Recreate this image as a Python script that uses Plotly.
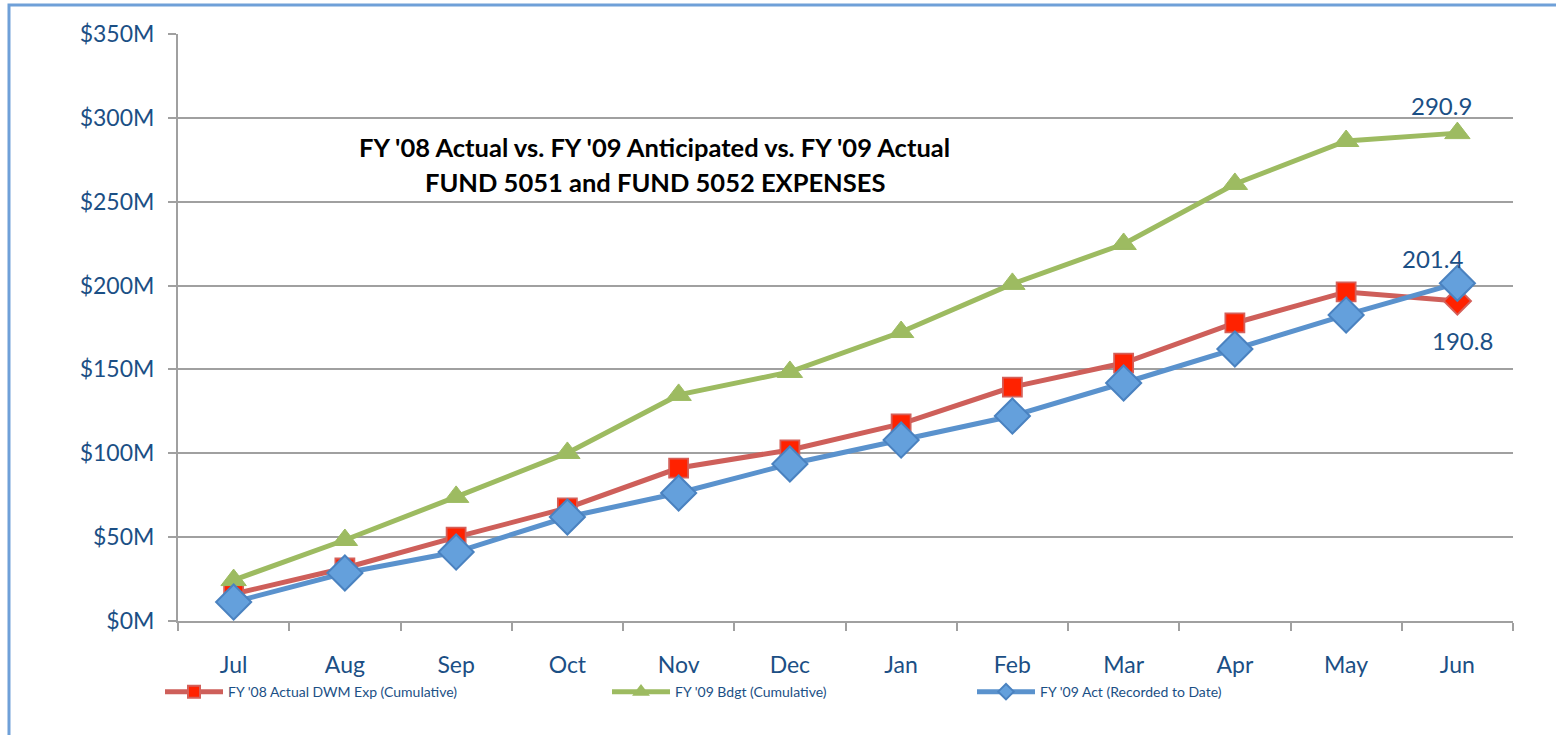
import plotly.graph_objects as go

months = ["Jul", "Aug", "Sep", "Oct", "Nov", "Dec", "Jan", "Feb", "Mar", "Apr", "May", "Jun"]
fy08_actual = [16.1, 31.6, 50.0, 67.4, 91.2, 102.0, 117.5, 139.5, 153.8, 177.7, 196.2, 190.8]
fy09_budget = [24.4, 48.3, 74.0, 100.2, 134.8, 148.5, 172.3, 201.0, 224.8, 260.6, 286.2, 290.9]
fy09_actual = [11.3, 28.6, 41.1, 62.0, 76.3, 93.6, 107.9, 122.2, 141.9, 162.2, 182.5, 201.4]
y_ticks = [0, 50, 100, 150, 200, 250, 300, 350]
y_labels = ["$0M", "$50M", "$100M", "$150M", "$200M", "$250M", "$300M", "$350M"]
series_names = ["FY '08 Actual DWM Exp (Cumulative)", "FY '09 Bdgt (Cumulative)", "FY '09 Act (Recorded to Date)"]
title_lines = ["FY '08 Actual vs. FY '09 Anticipated vs. FY '09 Actual", "FUND 5051 and FUND 5052 EXPENSES"]

FONT = "Lato, 'Open Sans', sans-serif"
LABEL_COLOR = "#1B4F85"

fig = go.Figure()
red_symbols = ["square"] * (len(months) - 1) + ["diamond"]
red_sizes = [19] * (len(months) - 1) + [21]
fig.add_trace(go.Scatter(
    x=months, y=fy08_actual, name=series_names[0], mode="lines+markers",
    line=dict(color="#CE5F5A", width=5), legend="legend",
    marker=dict(symbol=red_symbols, size=red_sizes, color="#FF2200", opacity=1,
                line=dict(color="#D4605A", width=1.8)),
))
fig.add_trace(go.Scatter(
    x=months, y=fy09_budget, name=series_names[1], mode="lines+markers",
    line=dict(color="#9DBB61", width=5), legend="legend2",
    marker=dict(symbol="triangle-up", size=22, color="#9DBB61", opacity=1,
                line=dict(color="#9DBB61", width=1)),
))
fig.add_trace(go.Scatter(
    x=months, y=fy09_actual, name=series_names[2], mode="lines+markers",
    line=dict(color="#5A92CD", width=5), legend="legend3",
    marker=dict(symbol="diamond", size=27, color="#64A0DC", opacity=1,
                line=dict(color="#4A82C0", width=2)),
))

label_font = dict(family=FONT, size=24, color=LABEL_COLOR)
fig.add_annotation(x=months[-1], y=fy09_budget[-1], text=f"{fy09_budget[-1]:.1f}",
                   showarrow=False, yshift=28, xshift=-16, font=label_font)
fig.add_annotation(x=months[-1], y=fy09_actual[-1], text=f"{fy09_actual[-1]:.1f}",
                   showarrow=False, yshift=25, xshift=-25, font=label_font)
fig.add_annotation(x=months[-1], y=fy08_actual[-1], text=f"{fy08_actual[-1]:.1f}",
                   showarrow=False, yshift=-39, xshift=5, font=label_font)

# title (two lines)
for line_text, ypos in zip(title_lines, [0.8075, 0.748]):
    fig.add_annotation(xref="paper", yref="paper", x=0.357, y=ypos, xanchor="center", yanchor="middle",
                       text=f"<b>{line_text}</b>", showarrow=False,
                       font=dict(family=FONT, size=25.5, color="#000000"))

# outer border
fig.add_shape(type="rect", xref="paper", yref="paper",
              x0=-0.1266, y0=-0.21, x1=1.04, y1=1.0494,
              line=dict(color="#6FA0D8", width=3), fillcolor="rgba(0,0,0,0)", layer="below")

leg_common = dict(orientation="h", y=-0.121, xanchor="left", yanchor="middle",
                  font=dict(family=FONT, size=14, color=LABEL_COLOR),
                  bgcolor="rgba(0,0,0,0)", itemsizing="constant", itemwidth=58)

fig.update_layout(
    width=1556, height=735,
    margin=dict(l=178, r=43, t=34, b=114),
    paper_bgcolor="white", plot_bgcolor="white",
    font=dict(family=FONT, color=LABEL_COLOR),
    showlegend=True,
    legend=dict(x=(160 - 178) / 1335, **leg_common),
    legend2=dict(x=(607 - 178) / 1335, **leg_common),
    legend3=dict(x=(972 - 178) / 1335, **leg_common),
    xaxis=dict(
        type="category", categoryorder="array", categoryarray=months,
        showline=True, linecolor="#A0A0A0", linewidth=2,
        ticks="outside", tickson="boundaries", ticklen=8, tickcolor="#A0A0A0", tickwidth=2,
        ticklabelstandoff=22,
        showgrid=False, tickfont=dict(family=FONT, size=23, color=LABEL_COLOR),
        range=[-0.5, len(months) - 0.5],
    ),
    yaxis=dict(
        range=[0, 350], tickvals=y_ticks, ticktext=y_labels,
        showline=True, linecolor="#A0A0A0", linewidth=2,
        ticks="outside", ticklen=8, tickcolor="#A0A0A0", tickwidth=2,
        ticklabelstandoff=9,
        showgrid=True, gridcolor="#A0A0A0", gridwidth=2,
        zeroline=False,
        tickfont=dict(family=FONT, size=23, color=LABEL_COLOR),
    ),
)

fig.write_html("out.html", config={"displayModeBar": False},
               post_script="document.body.style.margin='0';")
